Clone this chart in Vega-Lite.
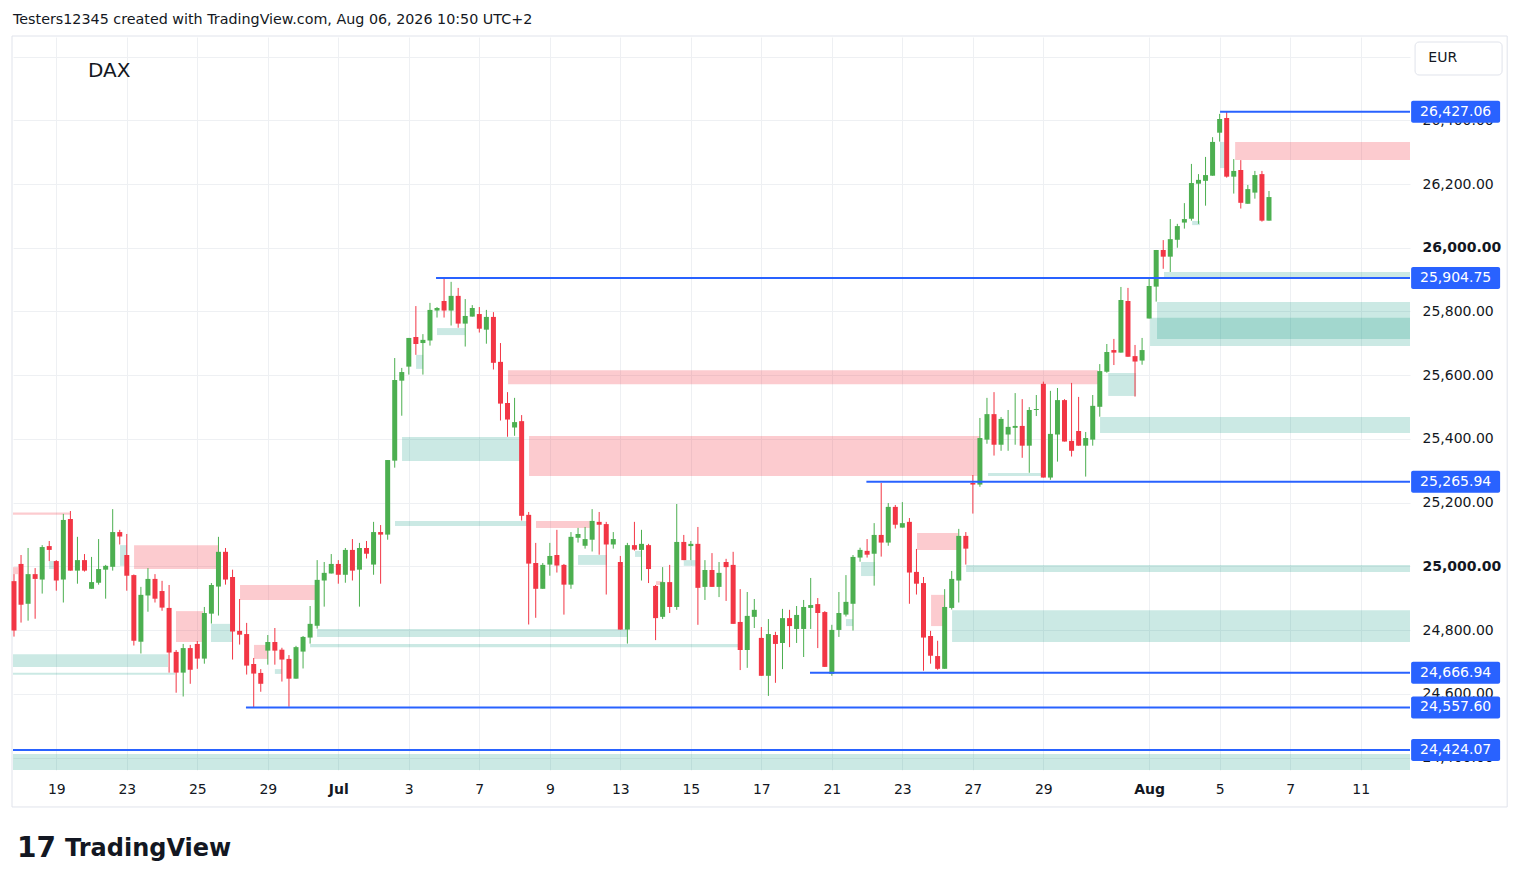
{
  "$schema": "https://vega.github.io/schema/vega-lite/v6.json",
  "width": 1397,
  "height": 733,
  "autosize": "none",
  "padding": {"left": 13, "top": 37, "right": 110, "bottom": 119},
  "background": "#ffffff",
  "view": {"stroke": null},
  "config": {"font": "DejaVu Sans"},
  "title": {
    "text": "Testers12345 created with TradingView.com, Aug 06, 2026 10:50 UTC+2",
    "anchor": "start",
    "frame": "group",
    "fontSize": 14.3,
    "fontWeight": "normal",
    "color": "#131722",
    "offset": 8
  },
  "datasets": {
    "candles": [
      {"i":-6,"o":24954,"h":24976,"l":24780,"c":24799},
      {"i":-5,"o":25008,"h":25036,"l":24824,"c":24880},
      {"i":-4,"o":24883,"h":25058,"l":24830,"c":24976},
      {"i":-3,"o":24976,"h":24995,"l":24836,"c":24961},
      {"i":-2,"o":24959,"h":25067,"l":24915,"c":25061},
      {"i":-1,"o":25064,"h":25080,"l":25017,"c":25052},
      {"i":0,"o":25017,"h":25020,"l":24924,"c":24956},
      {"i":1,"o":24959,"h":25165,"l":24887,"c":25146},
      {"i":2,"o":25149,"h":25174,"l":24987,"c":24987},
      {"i":3,"o":24987,"h":25093,"l":24946,"c":25020},
      {"i":4,"o":25020,"h":25039,"l":24984,"c":24987},
      {"i":5,"o":24930,"h":25030,"l":24930,"c":24951},
      {"i":6,"o":24949,"h":25086,"l":24943,"c":24992},
      {"i":7,"o":24990,"h":25005,"l":24899,"c":25002},
      {"i":8,"o":24999,"h":25180,"l":24987,"c":25108},
      {"i":9,"o":25108,"h":25115,"l":25069,"c":25094},
      {"i":10,"o":25036,"h":25102,"l":24924,"c":24971},
      {"i":11,"o":24973,"h":24975,"l":24752,"c":24767},
      {"i":12,"o":24764,"h":24936,"l":24727,"c":24911},
      {"i":13,"o":24909,"h":24995,"l":24858,"c":24961},
      {"i":14,"o":24961,"h":24976,"l":24887,"c":24899},
      {"i":15,"o":24923,"h":24955,"l":24861,"c":24871},
      {"i":16,"o":24870,"h":24942,"l":24667,"c":24730},
      {"i":17,"o":24732,"h":24738,"l":24604,"c":24667},
      {"i":18,"o":24667,"h":24757,"l":24592,"c":24744},
      {"i":19,"o":24744,"h":24754,"l":24632,"c":24676},
      {"i":20,"o":24757,"h":24766,"l":24679,"c":24711},
      {"i":21,"o":24711,"h":24873,"l":24695,"c":24854},
      {"i":22,"o":24852,"h":24948,"l":24821,"c":24942},
      {"i":23,"o":24937,"h":25093,"l":24846,"c":25046},
      {"i":24,"o":25046,"h":25058,"l":24943,"c":24959},
      {"i":25,"o":24967,"h":24990,"l":24708,"c":24796},
      {"i":26,"o":24798,"h":24898,"l":24755,"c":24786},
      {"i":27,"o":24788,"h":24823,"l":24661,"c":24689},
      {"i":28,"o":24694,"h":24713,"l":24557.6,"c":24664},
      {"i":29,"o":24666,"h":24678,"l":24607,"c":24632},
      {"i":30,"o":24736,"h":24785,"l":24692,"c":24763},
      {"i":31,"o":24763,"h":24807,"l":24692,"c":24736},
      {"i":32,"o":24739,"h":24745,"l":24639,"c":24708},
      {"i":33,"o":24710,"h":24722,"l":24560,"c":24648},
      {"i":34,"o":24648,"h":24751,"l":24648,"c":24747},
      {"i":35,"o":24733,"h":24782,"l":24680,"c":24779},
      {"i":36,"o":24777,"h":24876,"l":24758,"c":24820},
      {"i":37,"o":24814,"h":25020,"l":24805,"c":24958},
      {"i":38,"o":24956,"h":25014,"l":24874,"c":24980},
      {"i":39,"o":24978,"h":25039,"l":24978,"c":25008},
      {"i":40,"o":25008,"h":25020,"l":24946,"c":24974},
      {"i":41,"o":24974,"h":25058,"l":24949,"c":25052},
      {"i":42,"o":25052,"h":25086,"l":24956,"c":24987},
      {"i":43,"o":24990,"h":25074,"l":24874,"c":25058},
      {"i":44,"o":25058,"h":25080,"l":25025,"c":25040},
      {"i":45,"o":25006,"h":25140,"l":24974,"c":25108},
      {"i":46,"o":25108,"h":25130,"l":24946,"c":25100},
      {"i":47,"o":25100,"h":25334,"l":25084,"c":25334},
      {"i":48,"o":25332,"h":25654,"l":25310,"c":25585},
      {"i":49,"o":25583,"h":25623,"l":25473,"c":25610},
      {"i":50,"o":25627,"h":25717,"l":25602,"c":25717},
      {"i":51,"o":25720,"h":25817,"l":25664,"c":25698},
      {"i":52,"o":25701,"h":25729,"l":25602,"c":25711},
      {"i":53,"o":25709,"h":25827,"l":25693,"c":25805},
      {"i":54,"o":25803,"h":25814,"l":25781,"c":25811},
      {"i":55,"o":25833,"h":25904.75,"l":25781,"c":25803},
      {"i":56,"o":25803,"h":25893,"l":25756,"c":25849},
      {"i":57,"o":25849,"h":25874,"l":25749,"c":25762},
      {"i":58,"o":25762,"h":25839,"l":25690,"c":25786},
      {"i":59,"o":25784,"h":25820,"l":25784,"c":25811},
      {"i":60,"o":25792,"h":25814,"l":25734,"c":25746},
      {"i":61,"o":25743,"h":25805,"l":25699,"c":25783},
      {"i":62,"o":25783,"h":25798,"l":25618,"c":25639},
      {"i":63,"o":25642,"h":25701,"l":25458,"c":25511},
      {"i":64,"o":25513,"h":25547,"l":25407,"c":25461},
      {"i":65,"o":25436,"h":25529,"l":25410,"c":25453},
      {"i":66,"o":25456,"h":25475,"l":25144,"c":25159},
      {"i":67,"o":25162,"h":25171,"l":24818,"c":25009},
      {"i":68,"o":25011,"h":25074,"l":24839,"c":24930},
      {"i":69,"o":24930,"h":25011,"l":24930,"c":25005},
      {"i":70,"o":25006,"h":25074,"l":24971,"c":25033},
      {"i":71,"o":25036,"h":25115,"l":24981,"c":25003},
      {"i":72,"o":25005,"h":25008,"l":24849,"c":24943},
      {"i":73,"o":24943,"h":25108,"l":24930,"c":25093},
      {"i":74,"o":25090,"h":25121,"l":25075,"c":25102},
      {"i":75,"o":25065,"h":25124,"l":25056,"c":25086},
      {"i":76,"o":25084,"h":25180,"l":25047,"c":25143},
      {"i":77,"o":25140,"h":25171,"l":25037,"c":25131},
      {"i":78,"o":25133,"h":25140,"l":24912,"c":25069},
      {"i":79,"o":25069,"h":25108,"l":25056,"c":25086},
      {"i":80,"o":25014,"h":25033,"l":24802,"c":24802},
      {"i":81,"o":24802,"h":25074,"l":24758,"c":25067},
      {"i":82,"o":25067,"h":25140,"l":25050,"c":25053},
      {"i":83,"o":25052,"h":25115,"l":24956,"c":25071},
      {"i":84,"o":25067,"h":25071,"l":24948,"c":24992},
      {"i":85,"o":24939,"h":24942,"l":24769,"c":24838},
      {"i":86,"o":24842,"h":24998,"l":24835,"c":24951},
      {"i":87,"o":24951,"h":25005,"l":24854,"c":24873},
      {"i":88,"o":24873,"h":25196,"l":24864,"c":25077},
      {"i":89,"o":25077,"h":25099,"l":25020,"c":25020},
      {"i":90,"o":25064,"h":25080,"l":25020,"c":25071},
      {"i":91,"o":25071,"h":25124,"l":24817,"c":24933},
      {"i":92,"o":24936,"h":25020,"l":24895,"c":24989},
      {"i":93,"o":24989,"h":25042,"l":24936,"c":24936},
      {"i":94,"o":24936,"h":25014,"l":24904,"c":24980},
      {"i":95,"o":25014,"h":25024,"l":24892,"c":24998},
      {"i":96,"o":25005,"h":25046,"l":24820,"c":24820},
      {"i":97,"o":24826,"h":24929,"l":24675,"c":24738},
      {"i":98,"o":24738,"h":24920,"l":24682,"c":24845},
      {"i":99,"o":24842,"h":24898,"l":24807,"c":24864},
      {"i":100,"o":24776,"h":24810,"l":24657,"c":24657},
      {"i":101,"o":24657,"h":24835,"l":24594,"c":24788},
      {"i":102,"o":24785,"h":24795,"l":24635,"c":24757},
      {"i":103,"o":24760,"h":24867,"l":24678,"c":24838},
      {"i":104,"o":24838,"h":24864,"l":24747,"c":24813},
      {"i":105,"o":24804,"h":24876,"l":24760,"c":24848},
      {"i":106,"o":24804,"h":24895,"l":24716,"c":24873},
      {"i":107,"o":24870,"h":24964,"l":24804,"c":24879},
      {"i":108,"o":24882,"h":24901,"l":24744,"c":24854},
      {"i":109,"o":24857,"h":24860,"l":24685,"c":24685},
      {"i":110,"o":24663,"h":24817,"l":24657,"c":24801},
      {"i":111,"o":24801,"h":24920,"l":24779,"c":24854},
      {"i":112,"o":24849,"h":24973,"l":24843,"c":24889},
      {"i":113,"o":24883,"h":25036,"l":24799,"c":25030},
      {"i":114,"o":25028,"h":25059,"l":25015,"c":25052},
      {"i":115,"o":25049,"h":25086,"l":25028,"c":25037},
      {"i":116,"o":25040,"h":25136,"l":24940,"c":25099},
      {"i":117,"o":25099,"h":25262,"l":25031,"c":25075},
      {"i":118,"o":25075,"h":25199,"l":25065,"c":25187},
      {"i":119,"o":25187,"h":25193,"l":25119,"c":25131},
      {"i":120,"o":25122,"h":25202,"l":25122,"c":25136},
      {"i":121,"o":25140,"h":25152,"l":24883,"c":24981},
      {"i":122,"o":24983,"h":25055,"l":24912,"c":24946},
      {"i":123,"o":24948,"h":24967,"l":24673,"c":24777},
      {"i":124,"o":24782,"h":24798,"l":24695,"c":24720},
      {"i":125,"o":24719,"h":24767,"l":24676,"c":24679},
      {"i":126,"o":24679,"h":24929,"l":24679,"c":24873},
      {"i":127,"o":24870,"h":24986,"l":24865,"c":24961},
      {"i":128,"o":24956,"h":25118,"l":24887,"c":25096},
      {"i":129,"o":25096,"h":25108,"l":25006,"c":25056},
      {"i":130,"o":25262,"h":25287,"l":25166,"c":25257},
      {"i":131,"o":25257,"h":25466,"l":25250,"c":25403},
      {"i":132,"o":25398,"h":25529,"l":25385,"c":25478},
      {"i":133,"o":25478,"h":25547,"l":25348,"c":25382},
      {"i":134,"o":25382,"h":25469,"l":25363,"c":25463},
      {"i":135,"o":25414,"h":25491,"l":25363,"c":25438},
      {"i":136,"o":25435,"h":25544,"l":25382,"c":25441},
      {"i":137,"o":25441,"h":25525,"l":25341,"c":25379},
      {"i":138,"o":25379,"h":25500,"l":25294,"c":25491},
      {"i":139,"o":25491,"h":25538,"l":25472,"c":25494},
      {"i":140,"o":25573,"h":25580,"l":25279,"c":25279},
      {"i":141,"o":25279,"h":25551,"l":25272,"c":25416},
      {"i":142,"o":25414,"h":25560,"l":25329,"c":25522},
      {"i":143,"o":25522,"h":25525,"l":25392,"c":25392},
      {"i":144,"o":25394,"h":25576,"l":25345,"c":25363},
      {"i":145,"o":25425,"h":25532,"l":25379,"c":25379},
      {"i":146,"o":25379,"h":25422,"l":25282,"c":25403},
      {"i":147,"o":25398,"h":25538,"l":25379,"c":25504},
      {"i":148,"o":25501,"h":25635,"l":25470,"c":25613},
      {"i":149,"o":25611,"h":25698,"l":25608,"c":25673},
      {"i":150,"o":25679,"h":25714,"l":25632,"c":25671},
      {"i":151,"o":25671,"h":25877,"l":25671,"c":25836},
      {"i":152,"o":25833,"h":25874,"l":25658,"c":25658},
      {"i":153,"o":25660,"h":25695,"l":25533,"c":25643},
      {"i":154,"o":25646,"h":25717,"l":25633,"c":25679},
      {"i":155,"o":25778,"h":25905,"l":25778,"c":25880},
      {"i":156,"o":25878,"h":25993,"l":25831,"c":25993},
      {"i":157,"o":25993,"h":26024,"l":25934,"c":25972},
      {"i":158,"o":25972,"h":26090,"l":25924,"c":26027},
      {"i":159,"o":26025,"h":26075,"l":26000,"c":26068},
      {"i":160,"o":26079,"h":26140,"l":26060,"c":26090},
      {"i":161,"o":26091,"h":26263,"l":26085,"c":26203},
      {"i":162,"o":26201,"h":26231,"l":26075,"c":26213},
      {"i":163,"o":26210,"h":26285,"l":26132,"c":26228},
      {"i":164,"o":26226,"h":26347,"l":26226,"c":26332},
      {"i":165,"o":26361,"h":26420,"l":26333,"c":26404},
      {"i":166,"o":26407,"h":26427.06,"l":26220,"c":26223},
      {"i":167,"o":26223,"h":26278,"l":26170,"c":26241},
      {"i":168,"o":26244,"h":26275,"l":26123,"c":26141},
      {"i":169,"o":26138,"h":26197,"l":26138,"c":26184},
      {"i":170,"o":26173,"h":26241,"l":26154,"c":26228},
      {"i":171,"o":26231,"h":26241,"l":26082,"c":26085},
      {"i":172,"o":26085,"h":26178,"l":26085,"c":26159}
    ],
    "zones": [
      {"x1":-6.14,"x2":1.94,"y1":25162,"y2":25169,"k":"supply"},
      {"x1":-6.14,"x2":-5.43,"y1":24976,"y2":24998,"k":"supply"},
      {"x1":-1.04,"x2":-0.18,"y1":24992,"y2":25017,"k":"demand"},
      {"x1":9.04,"x2":10.04,"y1":25002,"y2":25067,"k":"demand"},
      {"x1":11.03,"x2":22.94,"y1":24992,"y2":25067,"k":"supply"},
      {"x1":16.98,"x2":20.81,"y1":24763,"y2":24860,"k":"supply"},
      {"x1":21.94,"x2":25.06,"y1":24763,"y2":24820,"k":"demand"},
      {"x1":-6.14,"x2":15.84,"y1":24685,"y2":24725,"k":"demand"},
      {"x1":-6.14,"x2":16.83,"y1":24660,"y2":24667,"k":"demand"},
      {"x1":26.06,"x2":36.7,"y1":24895,"y2":24942,"k":"supply"},
      {"x1":28.04,"x2":30.03,"y1":24710,"y2":24754,"k":"supply"},
      {"x1":31.0,"x2":32.0,"y1":24663,"y2":24678,"k":"demand"},
      {"x1":36.98,"x2":80.95,"y1":24779,"y2":24804,"k":"demand"},
      {"x1":35.99,"x2":96.84,"y1":24747,"y2":24757,"k":"demand"},
      {"x1":48.04,"x2":66.9,"y1":25127,"y2":25143,"k":"demand"},
      {"x1":49.04,"x2":65.77,"y1":25331,"y2":25406,"k":"demand"},
      {"x1":51.03,"x2":52.03,"y1":25620,"y2":25664,"k":"demand"},
      {"x1":54.0,"x2":57.97,"y1":25726,"y2":25748,"k":"demand"},
      {"x1":64.07,"x2":147.76,"y1":25572,"y2":25616,"k":"supply"},
      {"x1":67.05,"x2":131.0,"y1":25284,"y2":25409,"k":"supply"},
      {"x1":68.04,"x2":75.7,"y1":25121,"y2":25143,"k":"supply"},
      {"x1":74.0,"x2":78.1,"y1":25005,"y2":25036,"k":"demand"},
      {"x1":82.08,"x2":83.07,"y1":25030,"y2":25049,"k":"demand"},
      {"x1":85.06,"x2":86.06,"y1":24942,"y2":24954,"k":"supply"},
      {"x1":89.0,"x2":90.74,"y1":25002,"y2":25020,"k":"demand"},
      {"x1":114.14,"x2":116.13,"y1":24970,"y2":25014,"k":"demand"},
      {"x1":112.0,"x2":113.0,"y1":24813,"y2":24835,"k":"demand"},
      {"x1":122.08,"x2":127.9,"y1":25052,"y2":25105,"k":"supply"},
      {"x1":124.07,"x2":126.06,"y1":24813,"y2":24911,"k":"supply"},
      {"x1":129.04,"x2":192,"y1":24983,"y2":25005,"k":"demand"},
      {"x1":127.05,"x2":192,"y1":24763,"y2":24863,"k":"demand"},
      {"x1":132.15,"x2":139.8,"y1":25284,"y2":25293,"k":"demand"},
      {"x1":149.2,"x2":153.15,"y1":25535,"y2":25607,"k":"demand"},
      {"x1":148.04,"x2":192,"y1":25419,"y2":25469,"k":"demand"},
      {"x1":157.11,"x2":192,"y1":25905,"y2":25924,"k":"demand"},
      {"x1":156.12,"x2":192,"y1":25714,"y2":25830,"k":"demand"},
      {"x1":155.13,"x2":192,"y1":25692,"y2":25780,"k":"demand"},
      {"x1":161.1,"x2":162.2,"y1":26071,"y2":26084,"k":"demand"},
      {"x1":165.06,"x2":165.77,"y1":26250,"y2":26332,"k":"demand"},
      {"x1":167.2,"x2":192,"y1":26275,"y2":26332,"k":"supply"},
      {"x1":-6.14,"x2":192,"y1":24361.5,"y2":24412,"k":"demand"}
    ],
    "levels": [
      {"p":26427.06,"x1":165.06},
      {"p":25904.75,"x1":53.86},
      {"p":25265.94,"x1":114.9},
      {"p":24666.94,"x1":106.9},
      {"p":24557.60,"x1":26.9},
      {"p":24424.07,"x1":-6.14}
    ]
  },
  "layer": [
    {
      "data": {"values": [{}]},
      "mark": {"type": "rect", "filled": false, "stroke": "#e0e3eb", "strokeWidth": 1},
      "encoding": {
        "x": {"datum": -6.28, "type": "quantitative", "scale": {"domain": [-6.14, 192], "nice": false, "zero": false, "padding": 0}, "title": null,
          "axis": {
            "values": [0,10,20,30,40,50,60,70,80,90,100,110,120,130,140,155,165,175,185],
            "labelExpr": "['19','23','25','29','Jul','3','7','9','13','15','17','21','23','27','29','Aug','5','7','11'][indexof([0,10,20,30,40,50,60,70,80,90,100,110,120,130,140,155,165,175,185], datum.value)]",
            "labelFontWeight": {"expr": "datum.value == 40 || datum.value == 155 ? 'bold' : 'normal'"},
            "grid": true, "gridColor": "#eef0f3", "ticks": false, "domain": false,
            "labelPadding": 12, "labelFontSize": 14, "labelColor": "#131722",
            "labelFlush": false, "labelOverlap": false, "title": null
          }
        },
        "x2": {"datum": 205.78},
        "y": {"datum": 26664.3, "type": "quantitative", "scale": {"domain": [24361.5, 26661.2], "nice": false, "zero": false, "padding": 0}, "title": null,
          "axis": {
            "orient": "right",
            "values": [24400,24600,24800,25000,25200,25400,25600,25800,26000,26200,26400,26600],
            "labelExpr": "datum.value > 26500 ? '' : format(datum.value, ',.2f')",
            "labelFontWeight": {"expr": "datum.value % 1000 == 0 ? 'bold' : 'normal'"},
            "grid": true, "gridColor": "#eef0f3", "ticks": false, "domain": false,
            "labelPadding": 12, "labelFontSize": 14, "labelColor": "#131722",
            "labelBaseline": "middle", "labelFlush": false, "labelOverlap": false, "title": null
          }
        },
        "y2": {"datum": 24245.5}
      }
    },
    {
      "data": {"name": "zones"},
      "mark": {"type": "rect"},
      "encoding": {
        "x": {"field": "x1", "type": "quantitative", "title": null},
        "x2": {"field": "x2"},
        "y": {"field": "y1", "type": "quantitative", "title": null},
        "y2": {"field": "y2"},
        "color": {"field": "k", "type": "nominal", "scale": {"domain": ["supply", "demand"], "range": ["#f23645", "#089981"]}, "legend": null},
        "opacity": {"field": "k", "type": "nominal", "scale": {"domain": ["supply", "demand"], "range": [0.26, 0.21]}, "legend": null}
      }
    },
    {
      "data": {"name": "candles"},
      "mark": {"type": "rule", "strokeWidth": 1},
      "encoding": {
        "x": {"field": "i", "type": "quantitative", "title": null},
        "y": {"field": "l", "type": "quantitative", "title": null},
        "y2": {"field": "h"},
        "color": {"condition": {"test": "datum.c >= datum.o", "value": "#4caf50"}, "value": "#f23645"}
      }
    },
    {
      "data": {"name": "candles"},
      "mark": {"type": "bar", "width": 5},
      "encoding": {
        "x": {"field": "i", "type": "quantitative", "title": null},
        "y": {"field": "o", "type": "quantitative", "title": null},
        "y2": {"field": "c"},
        "color": {"condition": {"test": "datum.c >= datum.o", "value": "#4caf50"}, "value": "#f23645"}
      }
    },
    {
      "data": {"name": "levels"},
      "mark": {"type": "rule", "color": "#2962ff", "strokeWidth": 2},
      "encoding": {
        "x": {"field": "x1", "type": "quantitative", "title": null},
        "x2": {"datum": 192},
        "y": {"field": "p", "type": "quantitative", "title": null}
      }
    },
    {
      "data": {"name": "levels"},
      "mark": {"type": "tick", "orient": "horizontal", "size": 89, "thickness": 22, "color": "#2962ff", "opacity": 1, "cornerRadius": 2},
      "encoding": {
        "x": {"datum": 198.47, "type": "quantitative"},
        "y": {"field": "p", "type": "quantitative", "title": null}
      }
    },
    {
      "data": {"name": "levels"},
      "mark": {"type": "text", "color": "#ffffff", "fontSize": 14, "align": "center", "baseline": "middle"},
      "encoding": {
        "x": {"datum": 198.47, "type": "quantitative"},
        "y": {"field": "p", "type": "quantitative", "title": null},
        "text": {"field": "p", "type": "quantitative", "format": ",.2f"}
      }
    },
    {
      "data": {"values": [{}]},
      "mark": {"type": "rect", "fill": "#ffffff", "stroke": "#e0e3eb", "cornerRadius": 4},
      "encoding": {
        "x": {"datum": 192.72, "type": "quantitative"},
        "x2": {"datum": 205.06},
        "y": {"datum": 26645.5, "type": "quantitative"},
        "y2": {"datum": 26542}
      }
    },
    {
      "data": {"values": [{}]},
      "mark": {"type": "text", "text": "EUR", "fontSize": 14, "color": "#131722", "align": "left", "baseline": "middle"},
      "encoding": {
        "x": {"datum": 194.6, "type": "quantitative"},
        "y": {"datum": 26595.3, "type": "quantitative"}
      }
    },
    {
      "data": {"values": [{}]},
      "mark": {"type": "text", "text": "DAX", "fontSize": 20, "color": "#131722", "align": "left", "baseline": "middle"},
      "encoding": {
        "x": {"datum": 4.5, "type": "quantitative"},
        "y": {"datum": 26554.5, "type": "quantitative"}
      }
    },
    {
      "data": {"values": [{}]},
      "mark": {"type": "text", "text": "17", "fontSize": 28, "fontWeight": 900, "color": "#131722", "align": "left", "baseline": "middle"},
      "encoding": {
        "x": {"datum": -5.57, "type": "quantitative"},
        "y": {"datum": 24113.7, "type": "quantitative"}
      }
    },
    {
      "data": {"values": [{}]},
      "mark": {"type": "text", "text": "TradingView", "fontSize": 24, "fontWeight": "bold", "color": "#131722", "align": "left", "baseline": "middle"},
      "encoding": {
        "x": {"datum": 1.23, "type": "quantitative"},
        "y": {"datum": 24113.7, "type": "quantitative"}
      }
    }
  ]
}
